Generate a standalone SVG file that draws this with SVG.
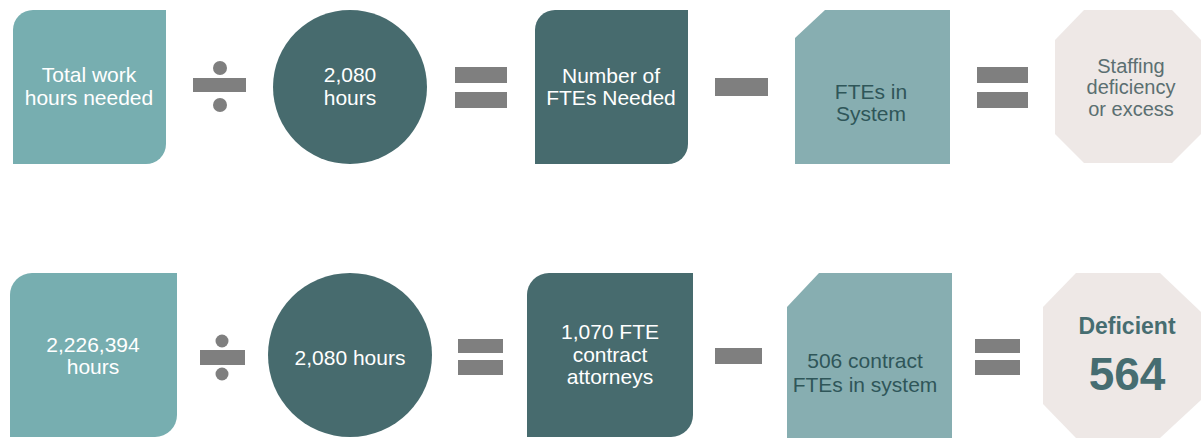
<svg xmlns="http://www.w3.org/2000/svg" width="1201" height="438" viewBox="0 0 1201 438">
  <style>
    .light { fill: #77AEB0; }
    .dark { fill: #476B6E; }
    .pale { fill: #87AEB1; }
    .oct { fill: #EEE8E6; }
    .op { fill: #7F7F7F; }
    text { font-family: "Liberation Sans", Arial, sans-serif; text-anchor: middle; font-size: 21px; }
    .w { fill: #FFFFFF; }
    .d { fill: #2F5659; }
    .g { fill: #5B6F71; font-size: 20px; }
    .b { fill: #466D71; font-weight: bold; font-size: 23px; }
    .big { font-size: 46px; }
  </style>
  <rect width="1201" height="438" fill="#FFFFFF"/>

  <g id="total-hours">
    <path class="light" d="M33,10 H166 V144 A20 20 0 0 1 146,164 H13 V30 A20 20 0 0 1 33,10 Z"/>
    <text class="w" x="89" y="82">Total work</text>
    <text class="w" x="89" y="105">hours needed</text>
  </g>
  <g id="hours-per-fte">
    <circle class="dark" cx="350" cy="87" r="77"/>
    <text class="w" x="350" y="82">2,080</text>
    <text class="w" x="350" y="105">hours</text>
  </g>
  <g id="ftes-needed">
    <path class="dark" d="M555,10 H688 V144 A20 20 0 0 1 668,164 H535 V30 A20 20 0 0 1 555,10 Z"/>
    <text class="w" x="611" y="83">Number of</text>
    <text class="w" x="611" y="105">FTEs Needed</text>
  </g>
  <g id="ftes-in-system">
    <path class="pale" d="M825,10 H950 V164 H795 V38 Z"/>
    <text class="d" x="871" y="99">FTEs in</text>
    <text class="d" x="871" y="121">System</text>
  </g>
  <g id="staffing-result">
    <polygon class="oct" points="1084,10 1172,10 1201,40 1201,134 1172,163 1084,163 1055,134 1055,40"/>
    <text class="g" x="1131" y="73">Staffing</text>
    <text class="g" x="1131" y="94">deficiency</text>
    <text class="g" x="1131" y="116">or excess</text>
  </g>

  <g id="work-hours-value">
    <path class="light" d="M32,273 H177 V415 A22 22 0 0 1 155,437 H10 V295 A22 22 0 0 1 32,273 Z"/>
    <text class="w" x="93" y="352">2,226,394</text>
    <text class="w" x="93" y="374">hours</text>
  </g>
  <g id="hours-value">
    <circle class="dark" cx="350" cy="355" r="82"/>
    <text class="w" x="350" y="365">2,080 hours</text>
  </g>
  <g id="ftes-needed-value">
    <path class="dark" d="M549,273 H693 V415 A22 22 0 0 1 671,437 H527 V295 A22 22 0 0 1 549,273 Z"/>
    <text class="w" x="610" y="339">1,070 FTE</text>
    <text class="w" x="610" y="362">contract</text>
    <text class="w" x="610" y="384">attorneys</text>
  </g>
  <g id="ftes-in-system-value">
    <path class="pale" d="M819,273 H952 V438 H787 V307 Z"/>
    <text class="d" x="865" y="368">506 contract</text>
    <text class="d" x="865" y="392">FTEs in system</text>
  </g>
  <g id="deficit-result">
    <polygon class="oct" points="1076,273 1160,273 1201,312 1201,400 1160,438 1076,438 1043,404 1043,307"/>
    <text class="b" x="1127" y="334">Deficient</text>
    <text class="b big" x="1127" y="390">564</text>
  </g>

  <g id="connectors">
    <rect class="op" x="193" y="78" width="53" height="14"/>
    <circle class="op" cx="220" cy="68" r="7"/>
    <circle class="op" cx="220" cy="105" r="7"/>
    <rect class="op" x="455" y="67" width="52" height="16"/>
    <rect class="op" x="455" y="92" width="52" height="16"/>
    <rect class="op" x="715" y="78" width="53" height="18"/>
    <rect class="op" x="977" y="67" width="51" height="16"/>
    <rect class="op" x="977" y="92" width="51" height="16"/>

    <rect class="op" x="200" y="350" width="45" height="15"/>
    <circle class="op" cx="222" cy="341" r="6.5"/>
    <circle class="op" cx="222" cy="374" r="6.5"/>
    <rect class="op" x="458" y="339" width="45" height="14"/>
    <rect class="op" x="458" y="360" width="45" height="15"/>
    <rect class="op" x="715" y="348" width="47" height="16"/>
    <rect class="op" x="975" y="339" width="45" height="14"/>
    <rect class="op" x="975" y="360" width="45" height="15"/>
  </g>
</svg>
